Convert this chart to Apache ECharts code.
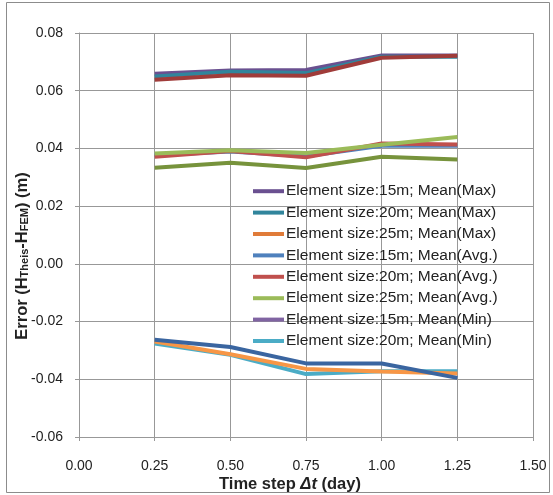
<!DOCTYPE html>
<html><head><meta charset="utf-8">
<script src="https://cdn.jsdelivr.net/npm/echarts@6/dist/echarts.min.js"></script>
<style>html,body{margin:0;padding:0;background:#fff}#c{width:553px;height:495px}</style>
</head><body><div id="c"></div>
<script>
const timeSteps = [0.25, 0.50, 0.75, 1.00, 1.25];
const xTicks = ['0.00','0.25','0.50','0.75','1.00','1.25','1.50'];
const yTicks = ['-0.06','-0.04','-0.02','0.00','0.02','0.04','0.06','0.08'];

const max15 = [0.0659, 0.0670, 0.0672, 0.0722, 0.0722];
const max20 = [0.0649, 0.0666, 0.0661, 0.0718, 0.0718];
const max25 = [0.0638, 0.0654, 0.0652, 0.0714, 0.0721];
const avg15 = [0.0376, 0.0389, 0.0373, 0.0409, 0.0409];
const avg20 = [0.0371, 0.0391, 0.0369, 0.0417, 0.0414];
const avg25 = [0.0382, 0.0394, 0.0384, 0.0413, 0.0440];
const series10 = [0.0333, 0.0350, 0.0332, 0.0371, 0.0362];
const min15 = [-0.0263, -0.0288, -0.0345, -0.0345, -0.0395];
const min20 = [-0.0276, -0.0315, -0.0382, -0.0372, -0.0372];
const min25 = [-0.0269, -0.0313, -0.0364, -0.0373, -0.0380];

const names = {
  max15: 'Element size:15m; Mean(Max)',
  max20: 'Element size:20m; Mean(Max)',
  max25: 'Element size:25m; Mean(Max)',
  avg15: 'Element size:15m; Mean(Avg.)',
  avg20: 'Element size:20m; Mean(Avg.)',
  avg25: 'Element size:25m; Mean(Avg.)',
  min15: 'Element size:15m; Mean(Min)',
  min20: 'Element size:20m; Mean(Min)',
  min25: 'Element size:25m; Mean(Min)',
  s10: 'Series 10'
};

function pts(arr){ return arr.map((v,i)=>[timeSteps[i], v]); }
function line(name, data, color){
  return {type:'line', name:name, data:pts(data), symbol:'none', smooth:false,
    lineStyle:{color:color, width:4}, itemStyle:{color:color}, emphasis:{disabled:true}};
}

const FONT = 'Liberation Sans';
const chart = echarts.init(document.getElementById('c'), null, {renderer:'canvas'});
chart.setOption({
  animation:false,
  backgroundColor:'#fff',
  grid:{left:79, right:20, top:33, bottom:58, containLabel:false},
  xAxis:{type:'value', min:0, max:1.5, interval:0.25,
    axisLine:{show:true, onZero:false, lineStyle:{color:'#989898', width:1}},
    axisTick:{show:true, length:4, lineStyle:{color:'#989898'}},
    splitLine:{show:true, lineStyle:{color:'#989898', width:1}},
    axisLabel:{margin:22, fontFamily:FONT, fontSize:14, color:'#222',
      formatter:(v)=>xTicks[Math.round(v/0.25)]}},
  yAxis:{type:'value', min:-0.06, max:0.08, interval:0.02,
    axisLine:{show:true, lineStyle:{color:'#989898', width:1}},
    axisTick:{show:true, length:4, lineStyle:{color:'#989898'}},
    splitLine:{show:true, lineStyle:{color:'#989898', width:1}},
    axisLabel:{margin:16, fontFamily:FONT, fontSize:14, color:'#222',
      formatter:(v)=>yTicks[Math.round((v+0.06)/0.02)]}},
  legend:{orient:'vertical', left:253, top:183, icon:'rect', itemWidth:31, itemHeight:4,
    itemGap:5, padding:0,
    textStyle:{fontFamily:FONT, fontSize:15.5, color:'#222', lineHeight:16.4, padding:[0,0,0,-3]},
    data:[
      {name:names.max15, itemStyle:{color:'#6A5090'}},
      {name:names.max20, itemStyle:{color:'#31859C'}},
      {name:names.max25, itemStyle:{color:'#E07B39'}},
      {name:names.avg15, itemStyle:{color:'#4F81BD'}},
      {name:names.avg20, itemStyle:{color:'#C0504D'}},
      {name:names.avg25, itemStyle:{color:'#9BBB59'}},
      {name:names.min15, itemStyle:{color:'#8064A2'}},
      {name:names.min20, itemStyle:{color:'#4BACC6'}}
    ]},
  series:[
    line(names.max15, max15, '#6A5090'),
    line(names.max20, max20, '#31859C'),
    line(names.max25, max25, '#A03C3A'),
    line(names.s10, series10, '#77933C'),
    line(names.avg15, avg15, '#4F81BD'),
    line(names.avg20, avg20, '#C0504D'),
    line(names.avg25, avg25, '#9BBB59'),
    line(names.min20, min20, '#4BACC6'),
    line(names.min25, min25, '#F79646'),
    line(names.min15, min15, '#3A65A0')
  ],
  graphic:[
    {type:'rect', shape:{x:6.5, y:2.5, width:543, height:490}, silent:true, z:-10,
      style:{fill:'none', stroke:'#8c8c8c', lineWidth:1}},
    {type:'text', x:22, y:256, rotation:Math.PI/2, silent:true,
      style:{text:'Error (H{s|Theis}-H{s|FEM}) (m)', fontFamily:FONT, fontSize:16.5, fontWeight:'bold',
        fill:'#222', align:'center', verticalAlign:'middle',
        rich:{s:{fontSize:11, fontWeight:'bold', fontFamily:FONT, fill:'#222', padding:[6,0,0,0]}}}},
    {type:'text', x:290, y:484, silent:true,
      style:{text:'Time step {i|Δt} (day)', fontFamily:FONT, fontSize:16.5, fontWeight:'bold',
        fill:'#222', align:'center', verticalAlign:'middle',
        rich:{i:{fontSize:16.5, fontWeight:'bold', fontStyle:'italic', fontFamily:FONT, fill:'#222'}}}}
  ]
});
</script></body></html>
